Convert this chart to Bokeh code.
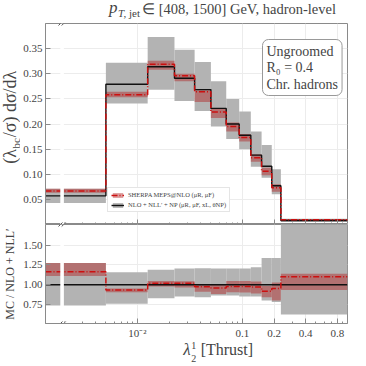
import numpy as np
from bokeh.plotting import figure
from bokeh.models import (ColumnDataSource, FixedTicker, PrintfTickFormatter, Label,
                          Legend, LegendItem, Range1d, CustomLabelingPolicy)
from bokeh.layouts import column, row
from bokeh.embed import file_html
from bokeh.resources import INLINE

# ---------------- data ----------------
edges = [0.0, 0.005, 0.0125, 0.0225, 0.035, 0.05, 0.07, 0.093, 0.12, 0.152, 0.19, 0.232, 1.0]

nlo    = [0.057, 0.279, 0.314, 0.291, 0.2685, 0.231, 0.200, 0.1775, 0.138, 0.116, 0.077, 0.008]
nlo_lo = [0.043, 0.241, 0.268, 0.246, 0.226, 0.195, 0.170, 0.150, 0.115, 0.093, 0.060, 0.005]
nlo_hi = [0.071, 0.322, 0.373, 0.348, 0.3235, 0.285, 0.250, 0.225, 0.185, 0.158, 0.110, 0.0115]

mc     = [0.0665, 0.258, 0.319, 0.296, 0.264, 0.224, 0.195, 0.173, 0.133, 0.106, 0.073, 0.0095]
mc_lo  = [0.063, 0.253, 0.308, 0.285, 0.244, 0.212, 0.185, 0.165, 0.125, 0.098, 0.065, 0.008]
mc_hi  = [0.071, 0.264, 0.326, 0.300, 0.267, 0.232, 0.203, 0.180, 0.140, 0.113, 0.080, 0.011]

r_nlo    = [1.0] * 12
r_nlo_lo = [0.738, 0.76, 0.83, 0.85, 0.84, 0.862, 0.862, 0.85, 0.85, 0.80, 0.78, 0.623]
r_nlo_hi = [1.274, 1.158, 1.19, 1.204, 1.207, 1.204, 1.204, 1.204, 1.22, 1.336, 1.336, 2.6]
r_mc     = [1.163, 0.932, 1.019, 1.019, 0.975, 0.957, 0.978, 0.978, 0.97, 0.916, 0.953, 1.101]
r_mc_lo  = [1.11, 0.904, 0.978, 0.965, 0.91, 0.883, 0.904, 0.90, 0.89, 0.842, 0.80, 0.932]
r_mc_hi  = [1.274, 0.953, 1.047, 1.043, 1.006, 1.006, 1.047, 1.047, 1.04, 0.985, 1.027, 1.138]

x_major = [0.01, 0.1, 0.2, 0.4, 0.8]
x_minor = [0.002, 0.003, 0.004, 0.005, 0.006, 0.007, 0.008, 0.009,
           0.02, 0.03, 0.04, 0.05, 0.06, 0.07, 0.08, 0.09,
           0.3, 0.5, 0.6, 0.7, 0.9]
x_labels = {0.01: "10⁻²", 0.1: "0.1", 0.2: "0.2", 0.4: "0.4", 0.8: "0.8"}
y_top_ticks = [0.05, 0.10, 0.15, 0.20, 0.25, 0.30, 0.35]
y_bot_ticks = [0.75, 1.00, 1.25, 1.50]

# ---------------- style ----------------
X_START, X_END = 0.00133, 1.0
BREAK_L, BREAK_R = 0.00184, 0.00199
FONT = "Liberation Serif"
GREY = "#b3b3b3"
RED_BAND = "#b22222"
RED_LINE = "#cc1010"
FRAME = "#8a8a8a"
GRID = "#ececec"
TICKTXT = "#444444"

left = np.maximum(np.array(edges[:-1]), X_START)
right = np.array(edges[1:])
xs_step = np.maximum(np.array(edges), X_START)

HIDE_ALL = CustomLabelingPolicy(code="""
    for (const i of indices) {
        indices.unset(i)
    }
    return indices
""")


def style(p, yticks, show_xlabels):
    p.outline_line_color = FRAME
    p.background_fill_color = "white"
    p.xgrid.grid_line_color = GRID
    p.ygrid.grid_line_color = GRID
    for ax in p.axis:
        ax.axis_line_color = FRAME
        ax.major_tick_line_color = FRAME
        ax.minor_tick_line_color = FRAME
        ax.major_tick_in = 5
        ax.major_tick_out = 0
        ax.minor_tick_in = 2
        ax.minor_tick_out = 0
        ax.major_label_text_font = FONT
        ax.major_label_text_color = TICKTXT
        ax.major_label_text_font_size = "11px"
        ax.major_label_standoff = 3
    p.xaxis.ticker = FixedTicker(ticks=x_major, minor_ticks=x_minor)
    p.xaxis.formatter = PrintfTickFormatter(format="%g")
    p.xaxis.major_label_overrides = x_labels
    if not show_xlabels:
        p.xaxis.major_label_text_font_size = "0px"
        p.xaxis.major_label_standoff = 0
        p.xaxis.major_label_policy = HIDE_ALL
    p.yaxis.ticker = FixedTicker(ticks=yticks)
    p.yaxis.formatter = PrintfTickFormatter(format="%.2f")
    p.yaxis.minor_tick_line_color = None


def draw_panel(p, c, c_lo, c_hi, m, m_lo, m_hi, ymin, ymax, dy):
    src = ColumnDataSource(dict(left=left, right=right, c_lo=c_lo, c_hi=c_hi,
                                m_lo=m_lo, m_hi=m_hi))
    nb = p.quad(left="left", right="right", bottom="c_lo", top="c_hi", source=src,
                fill_color=GREY, line_color=None)
    mb = p.quad(left="left", right="right", bottom="m_lo", top="m_hi", source=src,
                fill_color=RED_BAND, fill_alpha=0.45, line_color=None)
    nl = p.step(x=xs_step, y=np.append(c, c[-1]), mode="after",
                line_color="#111111", line_width=1.4)
    ml = p.step(x=xs_step, y=np.append(m, m[-1]), mode="after",
                line_color=RED_LINE, line_width=1.5, line_dash="6 2 1 2")
    # axis-break gap and "//" marks on the frame edges
    p.quad(left=[BREAK_L], right=[BREAK_R], bottom=[ymin], top=[ymax],
           fill_color="white", line_color=None)
    xb = (BREAK_L * BREAK_R) ** 0.5
    f = 10 ** (2.0 / 105.6)
    for yb in (ymin, ymax):
        for s in (-1.6, 1.6):
            xc = xb * 10 ** (s / 105.6)
            p.segment(x0=[xc / f], y0=[yb - dy], x1=[xc * f], y1=[yb + dy],
                      line_color="#555555", line_width=1)
    return nb, mb, nl, ml


def text_fig(w, h):
    f = figure(width=w, height=h, x_range=Range1d(0, w), y_range=Range1d(0, h),
               output_backend="svg", toolbar_location=None, min_border=0,
               x_axis_location=None, y_axis_location=None, title=None)
    f.outline_line_color = None
    f.grid.visible = False
    return f


def lab(f, x, y, text, size, **kw):
    f.add_layout(Label(x=x, y=y, text=text, text_font=FONT, text_font_size=size, **kw))


# ---------------- title strip (page y 0..23) ----------------
tf = text_fig(366, 23)
lab(tf, 77, 7, "p", "17px", text_font_style="italic")
lab(tf, 88, 5, "T", "11px", text_font_style="italic")
lab(tf, 94.5, 5, ", jet", "11px")
lab(tf, 117, 7, "∈ [408, 1500] GeV, hadron-level", "14.5px")

# ---------------- y-label strip (page x 0..20, y 23..224) ----------------
yf = text_fig(20, 201)
ROT = dict(angle=np.pi / 2, text_align="center", text_baseline="middle")
lab(yf, 9, 224 - 156, "(λ", "18px", **ROT)
lab(yf, 15, 224 - 142.8, "bc", "11px", **ROT)
lab(yf, 9, 224 - 103.5, "/σ) dσ/dλ", "18px", **ROT)

# ---------------- top panel ----------------
Y1 = (0.0, 0.40)
p1 = figure(width=346, height=201, x_axis_type="log",
            x_range=Range1d(X_START, X_END), y_range=Range1d(*Y1),
            output_backend="svg", toolbar_location=None, title=None,
            min_border_left=23, min_border_right=19, min_border_top=0, min_border_bottom=0)
style(p1, y_top_ticks, False)
nb, mb, nl, ml = draw_panel(p1, nlo, nlo_lo, nlo_hi, mc, mc_lo, mc_hi, *Y1, 0.004)

legend = Legend(items=[
    LegendItem(label="SHERPA MEPS@NLO (μR, μF)", renderers=[mb, ml]),
    LegendItem(label="NLO + NLL′ + NP (μR, μF, xL, θNP)", renderers=[nb, nl]),
], location=(62, 12), label_text_font=FONT, label_text_font_size="6.5px",
    label_height=7, glyph_height=6, glyph_width=13, spacing=3, padding=3,
    margin=0, border_line_color="#cccccc", background_fill_alpha=1.0,
    label_standoff=4)
p1.add_layout(legend)

# info box (canvas of p1 starts at page (20, 23))
p1.add_layout(Label(x=262 - 20, y=39 - 23, x_units="canvas", y_units="canvas",
                    text="Ungroomed\nR₀ = 0.4\nChr. hadrons", text_font=FONT,
                    text_font_size="14px", text_baseline="top", text_align="left",
                    text_line_height=1.1,
                    border_line_color="#999999", background_fill_color="white",
                    padding=4, border_radius=6))

# ---------------- ratio panel (page y 224..341) ----------------
Y2 = (0.51, 1.76)
p2 = figure(width=366, height=117, x_axis_type="log",
            x_range=p1.x_range, y_range=Range1d(*Y2),
            output_backend="svg", toolbar_location=None, title=None,
            min_border_left=43, min_border_right=19, min_border_top=0, min_border_bottom=16)
style(p2, y_bot_ticks, True)
draw_panel(p2, r_nlo, r_nlo_lo, r_nlo_hi, r_mc, r_mc_lo, r_mc_hi, *Y2, 0.025)

p2.yaxis.axis_label = "MC / NLO + NLL′"
p2.yaxis.axis_label_text_font = FONT
p2.yaxis.axis_label_text_font_size = "12px"
p2.yaxis.axis_label_text_font_style = "normal"
p2.yaxis.axis_label_standoff = 3

# ---------------- x-label strip (page y 341..365) ----------------
xf = text_fig(366, 24)
lab(xf, 167, 7, "λ", "17px", text_font_style="italic")
lab(xf, 176.5, 16.5, "1", "10px")
lab(xf, 176.5, 4, "2", "10px")
lab(xf, 188, 7.5, "[Thrust]", "16px")

layout = column(tf, row(yf, p1, spacing=0), p2, xf, spacing=0)
open("out.html", "w").write(file_html(layout, INLINE))
